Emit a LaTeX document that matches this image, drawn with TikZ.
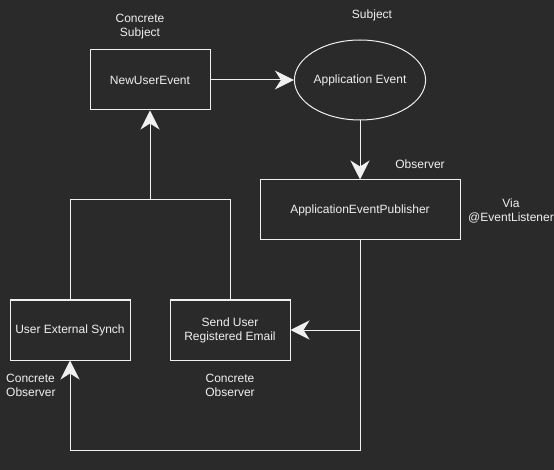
\documentclass[tikz,border=0pt]{standalone}
\usepackage{fontspec}
\setmainfont{Liberation Sans}
\usetikzlibrary{arrows.meta,shapes.geometric}
\definecolor{bg}{HTML}{2A2A2A}
\definecolor{ink}{HTML}{F0F0F0}
\begin{document}
\begin{tikzpicture}[x=1pt,y=-1pt,
  every node/.style={text=ink,font=\fontsize{12}{14}\selectfont},
  box/.style={draw=ink,line width=1pt,minimum width=120pt,minimum height=60pt,inner sep=0pt,align=center},
  oval/.style={ellipse,draw=ink,line width=1pt,minimum width=120pt,minimum height=80pt,inner sep=0pt},
  lbl/.style={align=center,inner sep=0pt},
  wire/.style={draw=ink,line width=1pt},
  arr/.style={wire,-{Stealth[length=19pt,width=19pt,inset=6pt]}}]
\fill[bg] (0,0) rectangle (554,470);
\useasboundingbox (0,0) rectangle (554,470);

% components
\node[box] (nue) at (150,80) {NewUserEvent};
\node[oval] (ae) at (360,80) {Application Event};
\node[box,minimum width=200pt] (pub) at (360,210) {ApplicationEventPublisher};
\node[box] (ues) at (70,330) {User External Synch};
\node[box] (sur) at (230,330) {Send User\\Registered Email};

% role labels
\node[lbl] (l1) at (140,26.5) {Concrete\\Subject};
\node[lbl] (l2) at (372,15.5) {Subject};
\node[lbl] (l3) at (420,164.5) {Observer};
\node[lbl] (l4) at (511,211) {Via\\@EventListener};
\node[lbl,align=left,anchor=west] (l5) at (6,385.5) {Concrete\\Observer};
\node[lbl] (l6) at (230,385.5) {Concrete\\Observer};

% routing points
\coordinate (join) at (150,200);
\coordinate (split) at (360,330);
\coordinate (corner) at (360,450);

% connectors
\draw[arr] (nue.east) -- (ae.west);
\draw[arr] (ae.south) -- (pub.north);
\draw[arr] (ues.north) |- (join) -- (nue.south);
\draw[wire] (sur.north) |- (join);
\draw[arr] (pub.south) -- (split) -- (sur.east);
\draw[arr] (split) -- (corner) -| (ues.south);
\end{tikzpicture}
\end{document}
